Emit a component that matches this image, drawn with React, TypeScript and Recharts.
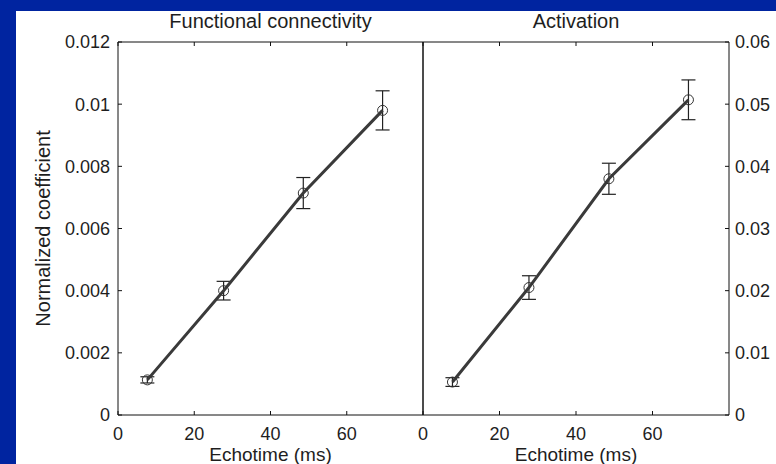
import React from "react";
import { ComposedChart, ErrorBar, Label, Line, XAxis, YAxis } from "recharts";

// Echo times (ms) and the normalized coefficients.
const ECHO_TIMES = [7.7, 27.7, 48.6, 69.4];
const CONNECTIVITY = [0.00113, 0.004, 0.00714, 0.0098];
const CONNECTIVITY_ERR = [0.0001, 0.0003, 0.0005, 0.00063];
const ACTIVATION = [0.0053, 0.0205, 0.038, 0.0507];
const ACTIVATION_ERR = [0.0007, 0.0019, 0.0025, 0.0032];

const X_TICKS = [0, 20, 40, 60];
const LEFT_TICKS = [0, 0.002, 0.004, 0.006, 0.008, 0.01, 0.012];
const RIGHT_TICKS = [0, 0.01, 0.02, 0.03, 0.04, 0.05, 0.06];

const FONT = "'Liberation Sans', Arial, sans-serif";
const TEXT_COLOR = "#1e1e1e";
const AXIS_COLOR = "#111";
const LINE_COLOR = "#3a3a3a";

const tickStyle = { fontSize: 18, fill: TEXT_COLOR, fontFamily: FONT };
const titleStyle = { fontSize: 20, fill: TEXT_COLOR, fontFamily: FONT };
const xLabelStyle = { fontSize: 19, fill: TEXT_COLOR, fontFamily: FONT };

// tick marks without labels (tick={false} drops the marks too)
const NoLabel = () => <g />;

function buildRows(values: number[], errors: number[]) {
  return ECHO_TIMES.map((t, i) => ({ t, value: values[i], err: errors[i] }));
}

const connectivityRows = buildRows(CONNECTIVITY, CONNECTIVITY_ERR);
const activationRows = buildRows(ACTIVATION, ACTIVATION_ERR);

function Series({ yAxisId }: { yAxisId: string }) {
  return (
    <Line
      yAxisId={yAxisId}
      dataKey="value"
      type="linear"
      stroke={LINE_COLOR}
      strokeWidth={3}
      dot={{ r: 5, stroke: "#333", strokeWidth: 1, fill: "none" }}
      activeDot={false}
      isAnimationActive={false}
    >
      <ErrorBar
        dataKey="err"
        direction="y"
        width={7}
        stroke="#222"
        strokeWidth={1.2}
        isAnimationActive={false}
      />
    </Line>
  );
}

export default function App() {
  return (
    <div
      style={{
        position: "absolute",
        left: 0,
        top: 0,
        width: 776,
        height: 464,
        background: "#0024a0",
        overflow: "hidden",
      }}
    >
      <div
        style={{
          position: "absolute",
          left: 16,
          top: 11,
          right: 0,
          bottom: 0,
          background: "#fff",
        }}
      />

      {/* left panel: functional connectivity */}
      <div style={{ position: "absolute", left: 0, top: 0 }}>
        <ComposedChart
          width={430}
          height={464}
          data={connectivityRows}
          margin={{ top: 41, right: 6, bottom: 0, left: 38 }}
        >
          <XAxis
            dataKey="t"
            type="number"
            domain={[0, 80]}
            ticks={X_TICKS}
            height={49}
            tickSize={-4}
            tickMargin={16}
            tick={tickStyle}
            axisLine={{ stroke: AXIS_COLOR }}
            tickLine={{ stroke: AXIS_COLOR }}
          >
            <Label value="Echotime (ms)" position="insideBottom" offset={3} style={xLabelStyle} />
          </XAxis>
          <XAxis
            xAxisId="top"
            dataKey="t"
            type="number"
            orientation="top"
            domain={[0, 80]}
            ticks={X_TICKS}
            height={1}
            tickSize={-4}
            tick={NoLabel}
            axisLine={{ stroke: AXIS_COLOR }}
            tickLine={{ stroke: AXIS_COLOR }}
          >
            <Label value="Functional connectivity" position="top" offset={13} style={titleStyle} />
          </XAxis>
          <YAxis
            yAxisId="l"
            type="number"
            domain={[0, 0.012]}
            ticks={LEFT_TICKS}
            width={80}
            tickSize={-4}
            tickMargin={12}
            tick={tickStyle}
            axisLine={{ stroke: AXIS_COLOR }}
            tickLine={{ stroke: AXIS_COLOR }}
          >
            <Label
              value="Normalized coefficient"
              angle={-90}
              position="insideLeft"
              offset={5}
              style={{ ...titleStyle, textAnchor: "middle" }}
            />
          </YAxis>
          <YAxis
            yAxisId="r"
            orientation="right"
            type="number"
            domain={[0, 0.012]}
            ticks={LEFT_TICKS}
            width={1}
            tickSize={-4}
            tick={NoLabel}
            axisLine={{ stroke: AXIS_COLOR }}
            tickLine={{ stroke: AXIS_COLOR }}
          />
          <Series yAxisId="l" />
        </ComposedChart>
      </div>

      {/* right panel: activation */}
      <div style={{ position: "absolute", left: 416, top: 0 }}>
        <ComposedChart
          width={360}
          height={464}
          data={activationRows}
          margin={{ top: 41, right: 0, bottom: 0, left: 6 }}
        >
          <XAxis
            dataKey="t"
            type="number"
            domain={[0, 80]}
            ticks={X_TICKS}
            height={49}
            tickSize={-4}
            tickMargin={16}
            tick={tickStyle}
            axisLine={{ stroke: AXIS_COLOR }}
            tickLine={{ stroke: AXIS_COLOR }}
          >
            <Label value="Echotime (ms)" position="insideBottom" offset={3} style={xLabelStyle} />
          </XAxis>
          <XAxis
            xAxisId="top"
            dataKey="t"
            type="number"
            orientation="top"
            domain={[0, 80]}
            ticks={X_TICKS}
            height={1}
            tickSize={-4}
            tick={NoLabel}
            axisLine={{ stroke: AXIS_COLOR }}
            tickLine={{ stroke: AXIS_COLOR }}
          >
            <Label value="Activation" position="top" offset={13} style={titleStyle} />
          </XAxis>
          <YAxis
            yAxisId="l"
            type="number"
            domain={[0, 0.06]}
            ticks={RIGHT_TICKS}
            width={1}
            tickSize={-4}
            tick={NoLabel}
            axisLine={{ stroke: AXIS_COLOR }}
            tickLine={{ stroke: AXIS_COLOR }}
          />
          <YAxis
            yAxisId="r"
            orientation="right"
            type="number"
            domain={[0, 0.06]}
            ticks={RIGHT_TICKS}
            width={47}
            tickSize={-4}
            tickMargin={10}
            tick={tickStyle}
            axisLine={{ stroke: AXIS_COLOR }}
            tickLine={{ stroke: AXIS_COLOR }}
          />
          <Series yAxisId="r" />
        </ComposedChart>
      </div>
    </div>
  );
}
